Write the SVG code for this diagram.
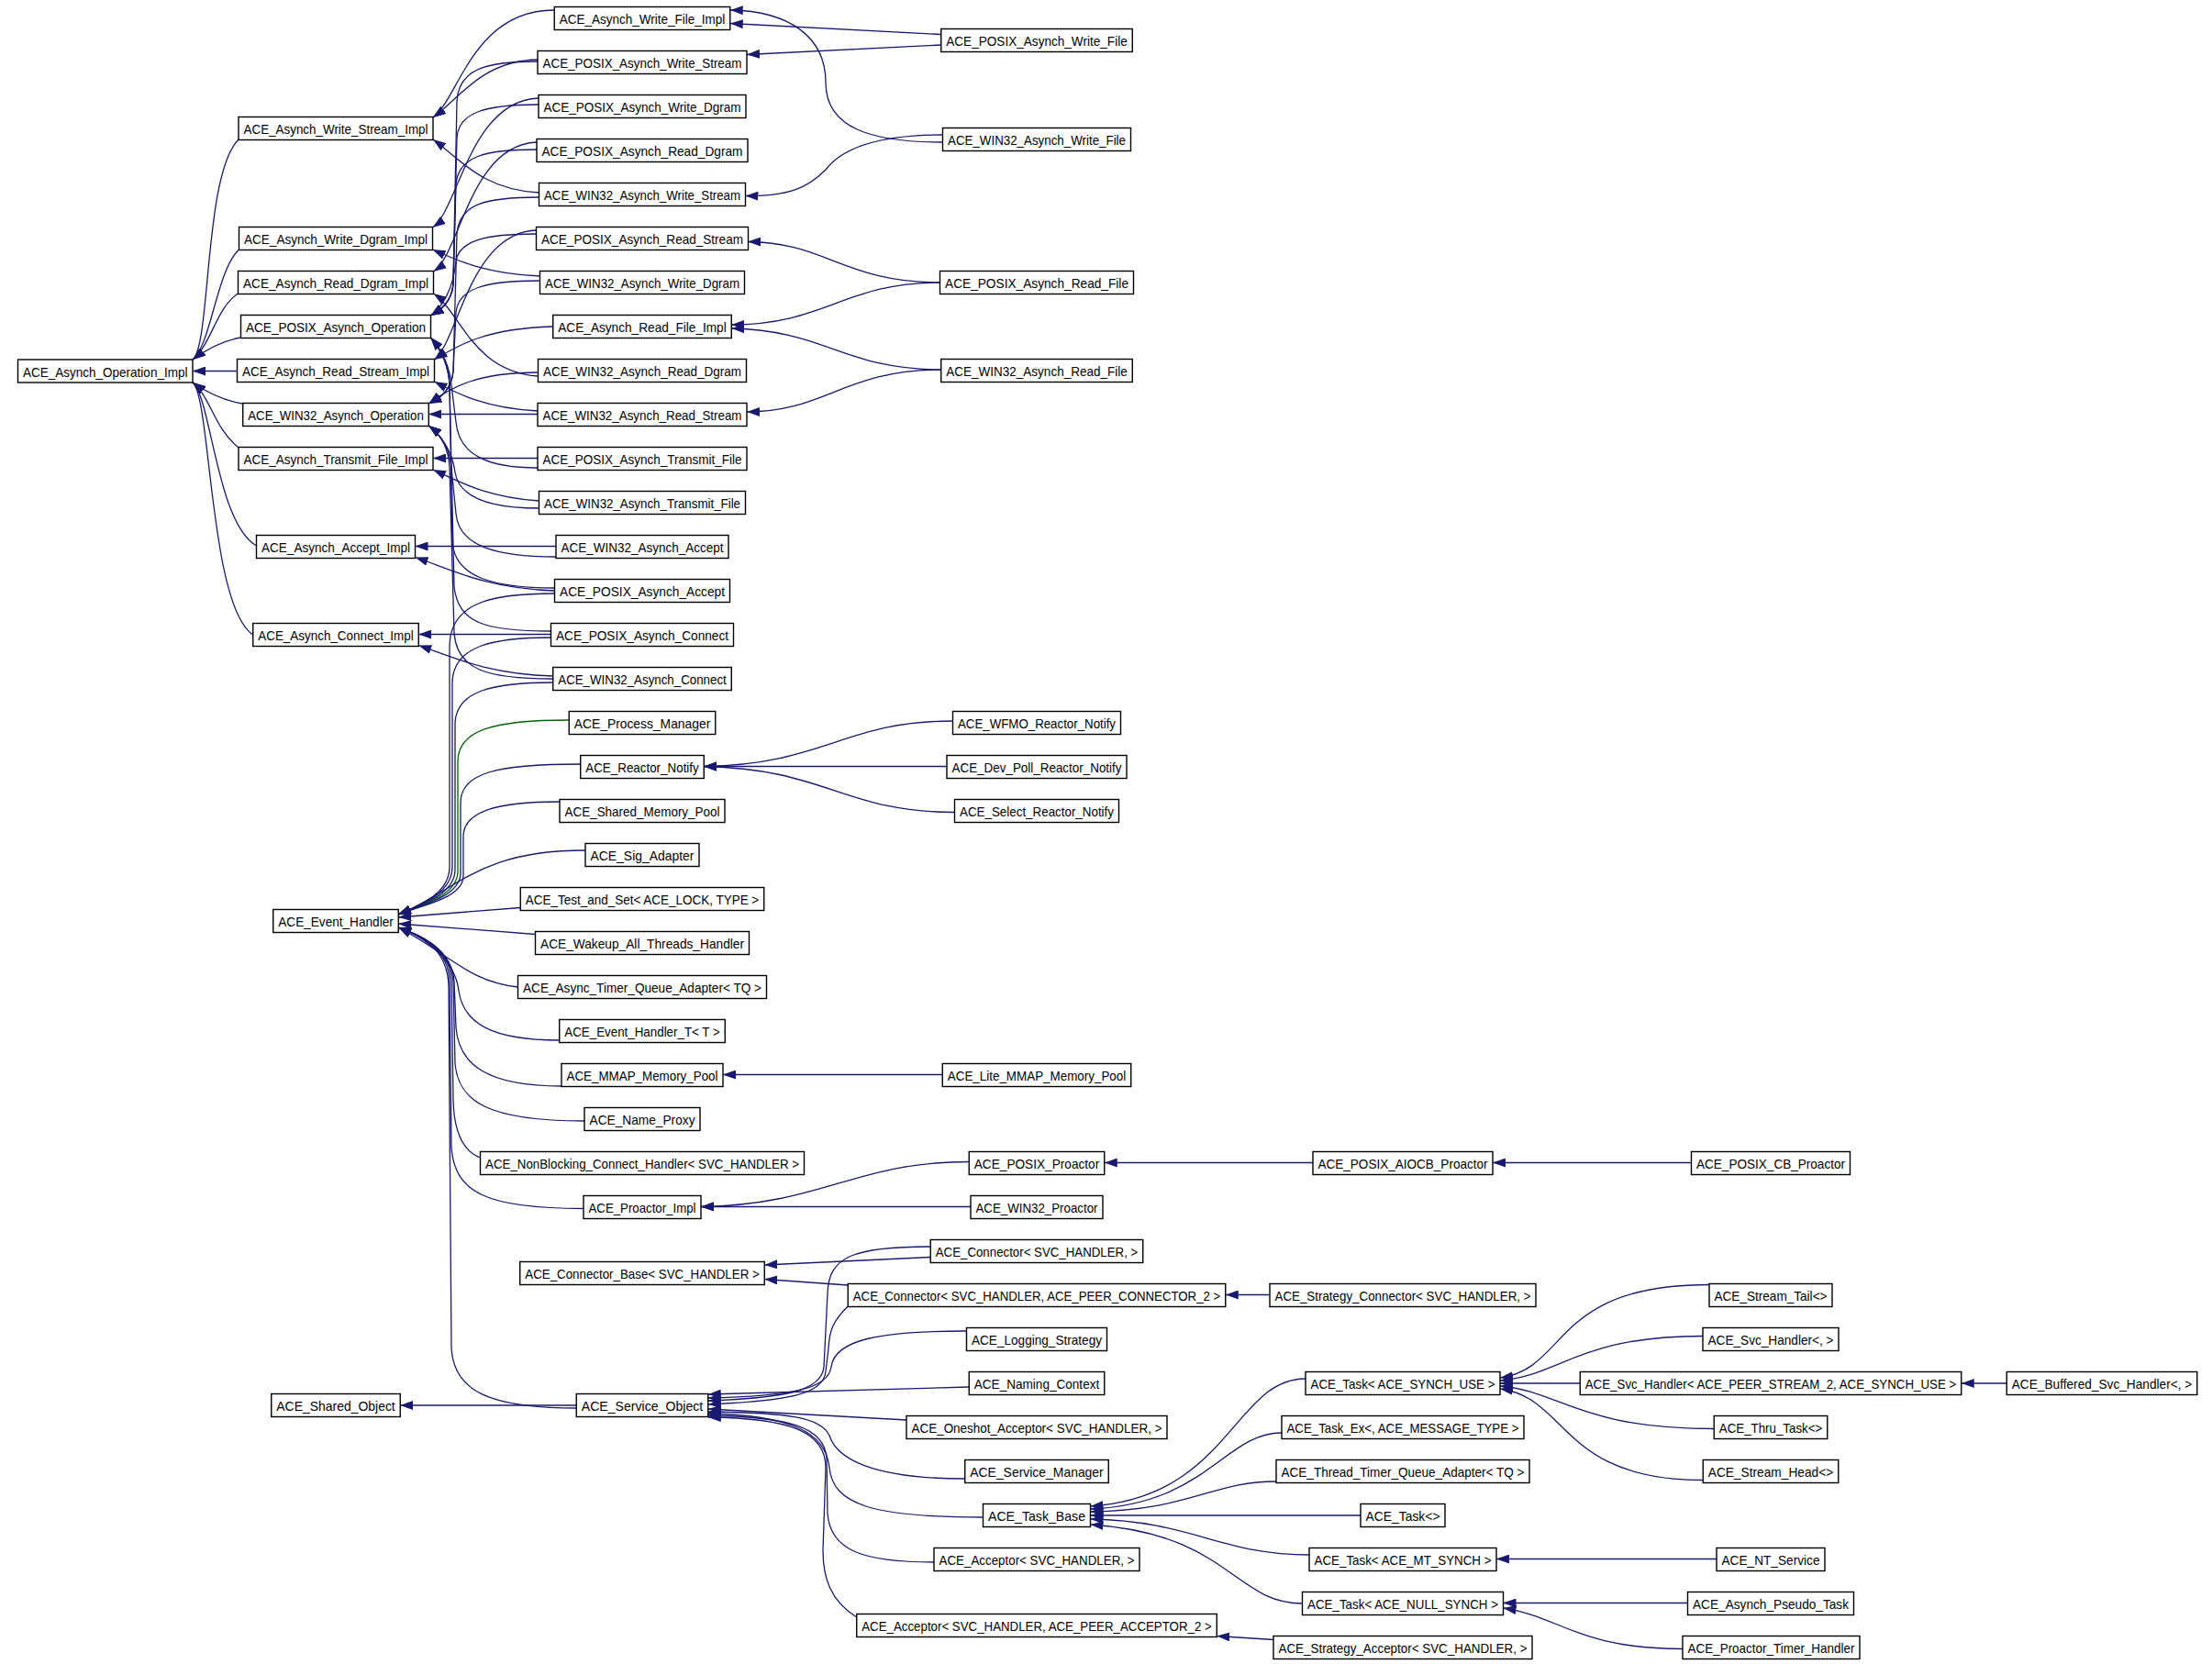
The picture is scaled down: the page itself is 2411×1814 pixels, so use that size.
<svg xmlns="http://www.w3.org/2000/svg" width="2411" height="1814" viewBox="0 0 2411 1814">
<style>
.e{fill:none;stroke:#191970;stroke-width:1.3;marker-end:url(#a)}
.g{fill:none;stroke:#006400;stroke-width:1.3;marker-end:url(#ag)}
.n rect{fill:#fff;stroke:#000;stroke-width:1.4}
.n text{font-family:"Liberation Sans",Arial,Helvetica,sans-serif;font-size:15px;text-anchor:middle;fill:#000}
</style>
<defs>
<marker id="a" markerUnits="userSpaceOnUse" viewBox="0 0 14 10" markerWidth="14" markerHeight="10" refX="14" refY="5" orient="auto"><path d="M0,0 L14,5 L0,10 Z" fill="#191970"/></marker>
<marker id="ag" markerUnits="userSpaceOnUse" viewBox="0 0 14 10" markerWidth="14" markerHeight="10" refX="14" refY="5" orient="auto"><path d="M0,0 L14,5 L0,10 Z" fill="#006400"/></marker>
</defs>
<rect width="2411" height="1814" fill="#fff"/>
<g id="edges">
<path class="e" d="M260,152 C222,190 230,376 210,392"/>
<path class="e" d="M260.5,272 C236,295 230,376 210,392"/>
<path class="e" d="M259.5,320 C236,335 230,376 210,392"/>
<path class="e" d="M262.5,368 C244,371 226,380 210,392"/>
<path class="e" d="M258.5,404.5 L210,404.5"/>
<path class="e" d="M264.75,440 C245,437 226,428 210,417"/>
<path class="e" d="M260,488 C232,465 230,433 210,417"/>
<path class="e" d="M279.5,595 C236,570 230,433 210,417"/>
<path class="e" d="M275.75,692 C228,660 230,433 210,417"/>
<path class="e" d="M604.25,11 C515,11 500,108 472,128"/>
<path class="e" d="M586,65 C525,66 500,108 472,128"/>
<path class="e" d="M587.5,210 C525,207 500,172 472,152"/>
<path class="e" d="M587,107 C512,110 500,228 471.5,248"/>
<path class="e" d="M588.5,301 C530,298 500,285 471.5,272"/>
<path class="e" d="M585,155 C512,158 502,276 472.5,296"/>
<path class="e" d="M586.5,410 C515,405 502,340 472.5,320"/>
<path class="e" d="M586,67 C530,67 500,75 498,110 L494,310 C492,330 480,338 469.5,344"/>
<path class="e" d="M587,114 C530,114 500,122 498,150 L494,310 C492,330 480,338 469.5,344"/>
<path class="e" d="M585,163 C530,163 500,170 497,200 L494,310 C492,330 480,338 469.5,344"/>
<path class="e" d="M584.5,255 C530,255 500,262 497,285 C494,315 482,335 469.5,344"/>
<path class="e" d="M586,510 C530,510 500,495 497,460 L492,420 C490,395 478,378 469.5,368"/>
<path class="e" d="M604.5,641 C540,641 495,630 493,590 L490,420 C489,395 478,378 469.5,368"/>
<path class="e" d="M600.5,688 C530,688 500,680 495,640 L490,420 C489,395 478,378 469.5,368"/>
<path class="e" d="M602.75,356 C530,358 500,376 473.5,392"/>
<path class="e" d="M584.5,251 C512,254 500,370 473.5,392"/>
<path class="e" d="M586,448 C530,445 500,430 473.5,416"/>
<path class="e" d="M587.5,215 C530,215 500,222 498,255 L494,405 C492,425 480,434 467.25,440"/>
<path class="e" d="M588.5,306 C530,306 500,314 497,340 L494,405 C492,425 480,434 467.25,440"/>
<path class="e" d="M586.5,406 C520,406 492,422 467.25,440"/>
<path class="e" d="M586,451.5 L467.25,451.5"/>
<path class="e" d="M587.5,554 C530,554 500,540 496,515 C493,490 478,472 467.25,464"/>
<path class="e" d="M606,607 C540,607 500,595 497,560 L492,510 C490,485 478,472 467.25,464"/>
<path class="e" d="M602.75,740 C530,740 498,730 495,690 L490,510 C489,485 478,472 467.25,464"/>
<path class="e" d="M586,499.5 L472,499.5"/>
<path class="e" d="M587.5,546 C530,542 500,525 472,512"/>
<path class="e" d="M606,595.5 L452.5,595.5"/>
<path class="e" d="M604.5,644 C530,642 490,620 452.5,607.5"/>
<path class="e" d="M600.5,691.5 L456.25,691.5"/>
<path class="e" d="M602.75,737 C530,735 490,715 456.25,703.5"/>
<path class="e" d="M604.5,647 C540,647 490,655 490,705 L490,945 C490,975 455,988 434.25,997"/>
<path class="e" d="M600.5,695 C540,695 493,703 493,745 L493,945 C493,975 455,988 434.25,997"/>
<path class="e" d="M602.75,744 C540,744 496,752 496,790 L496,948 C496,976 455,988 434.25,997"/>
<path class="g" d="M620.25,785 C540,785 499,795 499,830 L499,950 C499,977 455,988 434.25,997"/>
<path class="e" d="M632.75,833 C540,833 502,843 502,875 L502,952 C502,978 455,988 434.25,997"/>
<path class="e" d="M610,874 C540,874 505,885 505,912 L505,955 C505,980 455,988 434.25,997"/>
<path class="e" d="M638,927 C520,927 500,970 434.25,997"/>
<path class="e" d="M567.25,989.5 L434.25,1000"/>
<path class="e" d="M583.5,1018.5 L434.25,1007"/>
<path class="e" d="M564.5,1076 C510,1070 490,1040 434.25,1011"/>
<path class="e" d="M609.75,1134 C535,1134 505,1115 500,1080 C496,1045 460,1020 434.25,1011"/>
<path class="e" d="M612,1184 C530,1184 500,1160 497,1120 L495,1070 C493,1035 460,1020 434.25,1011"/>
<path class="e" d="M637,1222 C530,1222 500,1200 496,1160 L494,1070 C492,1035 460,1020 434.25,1011"/>
<path class="e" d="M523.5,1262 C505,1255 495,1235 494,1200 L492,1070 C491,1035 460,1020 434.25,1011"/>
<path class="e" d="M636,1317.5 C530,1317.5 495,1300 492,1250 L490,1070 C489,1035 460,1020 434.25,1011"/>
<path class="e" d="M628.25,1535 C530,1535 495,1515 492,1470 L489,1075 C488,1035 460,1020 434.25,1011"/>
<path class="e" d="M628.25,1532 L436.25,1532"/>
<path class="e" d="M1025.75,37.5 L795.75,25.5"/>
<path class="e" d="M1025.75,49 L814,59.5"/>
<path class="e" d="M1027.5,155 C950,155 900,140 900,90 C900,40 860,12 795.75,11"/>
<path class="e" d="M1027.5,147 C950,147 915,165 900,185 C880,205 860,214 812.5,213.5"/>
<path class="e" d="M1024.5,308 C920,308 900,264 815,263.5"/>
<path class="e" d="M1024.5,308 C920,308 900,354 797.25,354"/>
<path class="e" d="M1025.75,403 C920,403 900,360 797.25,358"/>
<path class="e" d="M1025.75,403 C920,403 900,449 814,449"/>
<path class="e" d="M1038.5,786 C920,786 900,833 767.25,835.5"/>
<path class="e" d="M1032,835.5 L767.25,835.5"/>
<path class="e" d="M1040.5,885.5 C920,885.5 900,838 767.25,835.5"/>
<path class="e" d="M1027.25,1171.5 L788,1171.5"/>
<path class="e" d="M1056.25,1266.5 C930,1266.5 900,1313 764,1315.5"/>
<path class="e" d="M1058,1315.5 L764,1315.5"/>
<path class="e" d="M1431,1267.5 L1203.75,1267.5"/>
<path class="e" d="M1843.5,1267.5 L1627,1267.5"/>
<path class="e" d="M1014.25,1370.5 L833.25,1379"/>
<path class="e" d="M924.25,1401 L833.25,1394.5"/>
<path class="e" d="M1384,1411.5 L1335.75,1411.5"/>
<path class="e" d="M1014.25,1359 C930,1359 903,1370 902,1410 L898,1490 C896,1515 860,1524 771.75,1527"/>
<path class="e" d="M924.25,1424 C908,1440 904,1450 903,1470 L900,1495 C898,1520 860,1527 771.75,1531"/>
<path class="e" d="M1053.5,1451 C960,1451 910,1460 906,1490 C903,1515 860,1522 771.75,1524"/>
<path class="e" d="M1056.25,1512 L771.75,1520"/>
<path class="e" d="M988,1548 L771.75,1536"/>
<path class="e" d="M1051.75,1612 C950,1612 912,1590 904,1565 C895,1545 860,1540 771.75,1539"/>
<path class="e" d="M1071.5,1654 C950,1654 908,1640 904,1600 C900,1560 860,1543 771.75,1541"/>
<path class="e" d="M1018,1703 C940,1703 905,1690 902,1650 L901,1590 C899,1555 860,1545 771.75,1543"/>
<path class="e" d="M933.75,1763 C905,1745 897,1720 897,1690 L900,1600 C900,1560 860,1546 771.75,1545"/>
<path class="e" d="M1423,1503 C1345,1503 1340,1632 1188.5,1642"/>
<path class="e" d="M1397,1562 C1335,1562 1315,1640 1188.5,1645"/>
<path class="e" d="M1391,1615 C1320,1615 1300,1646 1188.5,1648"/>
<path class="e" d="M1483,1652 L1188.5,1652"/>
<path class="e" d="M1427,1695 C1330,1695 1300,1658 1188.5,1656"/>
<path class="e" d="M1419.5,1748 C1345,1748 1340,1672 1188.5,1662"/>
<path class="e" d="M1863,1400.5 C1690,1400.5 1710,1492 1635,1502"/>
<path class="e" d="M1856,1456.5 C1720,1456.5 1700,1500 1635,1505"/>
<path class="e" d="M1722.25,1508 L1635,1508"/>
<path class="e" d="M1868.25,1557.5 C1720,1557.5 1700,1516 1635,1511"/>
<path class="e" d="M1856.25,1613.5 C1700,1613.5 1710,1524 1635,1514"/>
<path class="e" d="M2187.25,1508 L2137.75,1508"/>
<path class="e" d="M1871,1699.5 L1631,1699.5"/>
<path class="e" d="M1839.5,1747.5 L1638.5,1747.5"/>
<path class="e" d="M1834,1797.5 C1720,1797.5 1700,1762 1638.5,1753"/>
<path class="e" d="M1388,1787.5 L1326.25,1783.5"/>
</g>
<g id="n_OI" class="n"><rect x="19.5" y="392" width="190.5" height="25"/><text x="114.7" y="410.5" textLength="179.5" lengthAdjust="spacingAndGlyphs">ACE_Asynch_Operation_Impl</text></g>
<g id="n_WSI" class="n"><rect x="260" y="127.5" width="212" height="25"/><text x="366" y="146" textLength="201" lengthAdjust="spacingAndGlyphs">ACE_Asynch_Write_Stream_Impl</text></g>
<g id="n_WDI" class="n"><rect x="260.5" y="247.5" width="211" height="25"/><text x="366" y="266" textLength="200" lengthAdjust="spacingAndGlyphs">ACE_Asynch_Write_Dgram_Impl</text></g>
<g id="n_RDI" class="n"><rect x="259.5" y="295.5" width="213" height="25"/><text x="366" y="314" textLength="202" lengthAdjust="spacingAndGlyphs">ACE_Asynch_Read_Dgram_Impl</text></g>
<g id="n_PO" class="n"><rect x="262.5" y="343.5" width="207" height="25"/><text x="366" y="362" textLength="196" lengthAdjust="spacingAndGlyphs">ACE_POSIX_Asynch_Operation</text></g>
<g id="n_RSI" class="n"><rect x="258.5" y="391.5" width="215" height="25"/><text x="366" y="410" textLength="204" lengthAdjust="spacingAndGlyphs">ACE_Asynch_Read_Stream_Impl</text></g>
<g id="n_WO" class="n"><rect x="264.75" y="439.5" width="202.5" height="25"/><text x="366" y="458" textLength="191.5" lengthAdjust="spacingAndGlyphs">ACE_WIN32_Asynch_Operation</text></g>
<g id="n_TFI" class="n"><rect x="260" y="487.5" width="212" height="25"/><text x="366" y="506" textLength="201" lengthAdjust="spacingAndGlyphs">ACE_Asynch_Transmit_File_Impl</text></g>
<g id="n_AI" class="n"><rect x="279.5" y="583.5" width="173" height="25"/><text x="366" y="602" textLength="162" lengthAdjust="spacingAndGlyphs">ACE_Asynch_Accept_Impl</text></g>
<g id="n_CI" class="n"><rect x="275.75" y="679.5" width="180.5" height="25"/><text x="366" y="698" textLength="169.5" lengthAdjust="spacingAndGlyphs">ACE_Asynch_Connect_Impl</text></g>
<g id="n_EH" class="n"><rect x="297.75" y="991.5" width="136.5" height="25"/><text x="366" y="1010" textLength="125.5" lengthAdjust="spacingAndGlyphs">ACE_Event_Handler</text></g>
<g id="n_ShO" class="n"><rect x="295.75" y="1519.5" width="140.5" height="25"/><text x="366" y="1538" textLength="129.5" lengthAdjust="spacingAndGlyphs">ACE_Shared_Object</text></g>
<g id="n_WFI" class="n"><rect x="604.25" y="7.5" width="191.5" height="25"/><text x="700" y="26" textLength="180.5" lengthAdjust="spacingAndGlyphs">ACE_Asynch_Write_File_Impl</text></g>
<g id="n_PWS" class="n"><rect x="586" y="55.5" width="228" height="25"/><text x="700" y="74" textLength="217" lengthAdjust="spacingAndGlyphs">ACE_POSIX_Asynch_Write_Stream</text></g>
<g id="n_PWD" class="n"><rect x="587" y="103.5" width="226" height="25"/><text x="700" y="122" textLength="215" lengthAdjust="spacingAndGlyphs">ACE_POSIX_Asynch_Write_Dgram</text></g>
<g id="n_PRD" class="n"><rect x="585" y="151.5" width="230" height="25"/><text x="700" y="170" textLength="219" lengthAdjust="spacingAndGlyphs">ACE_POSIX_Asynch_Read_Dgram</text></g>
<g id="n_WWS" class="n"><rect x="587.5" y="199.5" width="225" height="25"/><text x="700" y="218" textLength="214" lengthAdjust="spacingAndGlyphs">ACE_WIN32_Asynch_Write_Stream</text></g>
<g id="n_PRS" class="n"><rect x="584.5" y="247.5" width="231" height="25"/><text x="700" y="266" textLength="220" lengthAdjust="spacingAndGlyphs">ACE_POSIX_Asynch_Read_Stream</text></g>
<g id="n_WWD" class="n"><rect x="588.5" y="295.5" width="223" height="25"/><text x="700" y="314" textLength="212" lengthAdjust="spacingAndGlyphs">ACE_WIN32_Asynch_Write_Dgram</text></g>
<g id="n_RFI" class="n"><rect x="602.75" y="343.5" width="194.5" height="25"/><text x="700" y="362" textLength="183.5" lengthAdjust="spacingAndGlyphs">ACE_Asynch_Read_File_Impl</text></g>
<g id="n_WRD" class="n"><rect x="586.5" y="391.5" width="227" height="25"/><text x="700" y="410" textLength="216" lengthAdjust="spacingAndGlyphs">ACE_WIN32_Asynch_Read_Dgram</text></g>
<g id="n_WRS" class="n"><rect x="586" y="439.5" width="228" height="25"/><text x="700" y="458" textLength="217" lengthAdjust="spacingAndGlyphs">ACE_WIN32_Asynch_Read_Stream</text></g>
<g id="n_PTF" class="n"><rect x="586" y="487.5" width="228" height="25"/><text x="700" y="506" textLength="217" lengthAdjust="spacingAndGlyphs">ACE_POSIX_Asynch_Transmit_File</text></g>
<g id="n_WTF" class="n"><rect x="587.5" y="535.5" width="225" height="25"/><text x="700" y="554" textLength="214" lengthAdjust="spacingAndGlyphs">ACE_WIN32_Asynch_Transmit_File</text></g>
<g id="n_WA" class="n"><rect x="606" y="583.5" width="188" height="25"/><text x="700" y="602" textLength="177" lengthAdjust="spacingAndGlyphs">ACE_WIN32_Asynch_Accept</text></g>
<g id="n_PA" class="n"><rect x="604.5" y="631.5" width="191" height="25"/><text x="700" y="650" textLength="180" lengthAdjust="spacingAndGlyphs">ACE_POSIX_Asynch_Accept</text></g>
<g id="n_PC" class="n"><rect x="600.5" y="679.5" width="199" height="25"/><text x="700" y="698" textLength="188" lengthAdjust="spacingAndGlyphs">ACE_POSIX_Asynch_Connect</text></g>
<g id="n_WC" class="n"><rect x="602.75" y="727.5" width="194.5" height="25"/><text x="700" y="746" textLength="183.5" lengthAdjust="spacingAndGlyphs">ACE_WIN32_Asynch_Connect</text></g>
<g id="n_PM" class="n"><rect x="620.25" y="775.5" width="159.5" height="25"/><text x="700" y="794" textLength="148.5" lengthAdjust="spacingAndGlyphs">ACE_Process_Manager</text></g>
<g id="n_RN" class="n"><rect x="632.75" y="823.5" width="134.5" height="25"/><text x="700" y="842" textLength="123.5" lengthAdjust="spacingAndGlyphs">ACE_Reactor_Notify</text></g>
<g id="n_SMP" class="n"><rect x="610" y="871.5" width="180" height="25"/><text x="700" y="890" textLength="169" lengthAdjust="spacingAndGlyphs">ACE_Shared_Memory_Pool</text></g>
<g id="n_SA" class="n"><rect x="638" y="919.5" width="124" height="25"/><text x="700" y="938" textLength="113" lengthAdjust="spacingAndGlyphs">ACE_Sig_Adapter</text></g>
<g id="n_TaS" class="n"><rect x="567.25" y="967.5" width="265.5" height="25"/><text x="700" y="986" textLength="254.5" lengthAdjust="spacingAndGlyphs">ACE_Test_and_Set&lt; ACE_LOCK, TYPE &gt;</text></g>
<g id="n_WATH" class="n"><rect x="583.5" y="1015.5" width="233" height="25"/><text x="700" y="1034" textLength="222" lengthAdjust="spacingAndGlyphs">ACE_Wakeup_All_Threads_Handler</text></g>
<g id="n_ATQA" class="n"><rect x="564.5" y="1063.5" width="271" height="25"/><text x="700" y="1082" textLength="260" lengthAdjust="spacingAndGlyphs">ACE_Async_Timer_Queue_Adapter&lt; TQ &gt;</text></g>
<g id="n_EHT" class="n"><rect x="609.75" y="1111.5" width="180.5" height="25"/><text x="700" y="1130" textLength="169.5" lengthAdjust="spacingAndGlyphs">ACE_Event_Handler_T&lt; T &gt;</text></g>
<g id="n_MMAP" class="n"><rect x="612" y="1159.5" width="176" height="25"/><text x="700" y="1178" textLength="165" lengthAdjust="spacingAndGlyphs">ACE_MMAP_Memory_Pool</text></g>
<g id="n_NP" class="n"><rect x="637" y="1207.5" width="126" height="25"/><text x="700" y="1226" textLength="115" lengthAdjust="spacingAndGlyphs">ACE_Name_Proxy</text></g>
<g id="n_NB" class="n"><rect x="523.5" y="1255.5" width="353" height="25"/><text x="700" y="1274" textLength="342" lengthAdjust="spacingAndGlyphs">ACE_NonBlocking_Connect_Handler&lt; SVC_HANDLER &gt;</text></g>
<g id="n_PI" class="n"><rect x="636" y="1303.5" width="128" height="25"/><text x="700" y="1322" textLength="117" lengthAdjust="spacingAndGlyphs">ACE_Proactor_Impl</text></g>
<g id="n_CB" class="n"><rect x="566.75" y="1375.5" width="266.5" height="25"/><text x="700" y="1394" textLength="255.5" lengthAdjust="spacingAndGlyphs">ACE_Connector_Base&lt; SVC_HANDLER &gt;</text></g>
<g id="n_SO" class="n"><rect x="628.25" y="1519.5" width="143.5" height="25"/><text x="700" y="1538" textLength="132.5" lengthAdjust="spacingAndGlyphs">ACE_Service_Object</text></g>
<g id="n_PWF" class="n"><rect x="1025.75" y="31.5" width="208.5" height="25"/><text x="1130" y="50" textLength="197.5" lengthAdjust="spacingAndGlyphs">ACE_POSIX_Asynch_Write_File</text></g>
<g id="n_WWF" class="n"><rect x="1027.5" y="139.5" width="205" height="25"/><text x="1130" y="158" textLength="194" lengthAdjust="spacingAndGlyphs">ACE_WIN32_Asynch_Write_File</text></g>
<g id="n_PRF" class="n"><rect x="1024.5" y="295.5" width="211" height="25"/><text x="1130" y="314" textLength="200" lengthAdjust="spacingAndGlyphs">ACE_POSIX_Asynch_Read_File</text></g>
<g id="n_WRF" class="n"><rect x="1025.75" y="391.5" width="208.5" height="25"/><text x="1130" y="410" textLength="197.5" lengthAdjust="spacingAndGlyphs">ACE_WIN32_Asynch_Read_File</text></g>
<g id="n_WFMO" class="n"><rect x="1038.5" y="775.5" width="183" height="25"/><text x="1130" y="794" textLength="172" lengthAdjust="spacingAndGlyphs">ACE_WFMO_Reactor_Notify</text></g>
<g id="n_DPRN" class="n"><rect x="1032" y="823.5" width="196" height="25"/><text x="1130" y="842" textLength="185" lengthAdjust="spacingAndGlyphs">ACE_Dev_Poll_Reactor_Notify</text></g>
<g id="n_SRN" class="n"><rect x="1040.5" y="871.5" width="179" height="25"/><text x="1130" y="890" textLength="168" lengthAdjust="spacingAndGlyphs">ACE_Select_Reactor_Notify</text></g>
<g id="n_LMMAP" class="n"><rect x="1027.25" y="1159.5" width="205.5" height="25"/><text x="1130" y="1178" textLength="194.5" lengthAdjust="spacingAndGlyphs">ACE_Lite_MMAP_Memory_Pool</text></g>
<g id="n_PPro" class="n"><rect x="1056.25" y="1255.5" width="147.5" height="25"/><text x="1130" y="1274" textLength="136.5" lengthAdjust="spacingAndGlyphs">ACE_POSIX_Proactor</text></g>
<g id="n_WPro" class="n"><rect x="1058" y="1303.5" width="144" height="25"/><text x="1130" y="1322" textLength="133" lengthAdjust="spacingAndGlyphs">ACE_WIN32_Proactor</text></g>
<g id="n_Conn1" class="n"><rect x="1014.25" y="1351.5" width="231.5" height="25"/><text x="1130" y="1370" textLength="220.5" lengthAdjust="spacingAndGlyphs">ACE_Connector&lt; SVC_HANDLER, &gt;</text></g>
<g id="n_Conn2" class="n"><rect x="924.25" y="1399.5" width="411.5" height="25"/><text x="1130" y="1418" textLength="400.5" lengthAdjust="spacingAndGlyphs">ACE_Connector&lt; SVC_HANDLER, ACE_PEER_CONNECTOR_2 &gt;</text></g>
<g id="n_LS" class="n"><rect x="1053.5" y="1447.5" width="153" height="25"/><text x="1130" y="1466" textLength="142" lengthAdjust="spacingAndGlyphs">ACE_Logging_Strategy</text></g>
<g id="n_NC" class="n"><rect x="1056.25" y="1495.5" width="147.5" height="25"/><text x="1130" y="1514" textLength="136.5" lengthAdjust="spacingAndGlyphs">ACE_Naming_Context</text></g>
<g id="n_OA" class="n"><rect x="988" y="1543.5" width="284" height="25"/><text x="1130" y="1562" textLength="273" lengthAdjust="spacingAndGlyphs">ACE_Oneshot_Acceptor&lt; SVC_HANDLER, &gt;</text></g>
<g id="n_SM" class="n"><rect x="1051.75" y="1591.5" width="156.5" height="25"/><text x="1130" y="1610" textLength="145.5" lengthAdjust="spacingAndGlyphs">ACE_Service_Manager</text></g>
<g id="n_TB" class="n"><rect x="1071.5" y="1639.5" width="117" height="25"/><text x="1130" y="1658" textLength="106" lengthAdjust="spacingAndGlyphs">ACE_Task_Base</text></g>
<g id="n_Acc1" class="n"><rect x="1018" y="1687.5" width="224" height="25"/><text x="1130" y="1706" textLength="213" lengthAdjust="spacingAndGlyphs">ACE_Acceptor&lt; SVC_HANDLER, &gt;</text></g>
<g id="n_Acc2" class="n"><rect x="933.75" y="1759.5" width="392.5" height="25"/><text x="1130" y="1778" textLength="381.5" lengthAdjust="spacingAndGlyphs">ACE_Acceptor&lt; SVC_HANDLER, ACE_PEER_ACCEPTOR_2 &gt;</text></g>
<g id="n_AIOCB" class="n"><rect x="1431" y="1255.5" width="196" height="25"/><text x="1529" y="1274" textLength="185" lengthAdjust="spacingAndGlyphs">ACE_POSIX_AIOCB_Proactor</text></g>
<g id="n_SC" class="n"><rect x="1384" y="1399.5" width="290" height="25"/><text x="1529" y="1418" textLength="279" lengthAdjust="spacingAndGlyphs">ACE_Strategy_Connector&lt; SVC_HANDLER, &gt;</text></g>
<g id="n_TS" class="n"><rect x="1423" y="1495.5" width="212" height="25"/><text x="1529" y="1514" textLength="201" lengthAdjust="spacingAndGlyphs">ACE_Task&lt; ACE_SYNCH_USE &gt;</text></g>
<g id="n_TEx" class="n"><rect x="1397" y="1543.5" width="264" height="25"/><text x="1529" y="1562" textLength="253" lengthAdjust="spacingAndGlyphs">ACE_Task_Ex&lt;, ACE_MESSAGE_TYPE &gt;</text></g>
<g id="n_TTQA" class="n"><rect x="1391" y="1591.5" width="276" height="25"/><text x="1529" y="1610" textLength="265" lengthAdjust="spacingAndGlyphs">ACE_Thread_Timer_Queue_Adapter&lt; TQ &gt;</text></g>
<g id="n_T" class="n"><rect x="1483" y="1639.5" width="92" height="25"/><text x="1529" y="1658" textLength="81" lengthAdjust="spacingAndGlyphs">ACE_Task&lt;&gt;</text></g>
<g id="n_TMT" class="n"><rect x="1427" y="1687.5" width="204" height="25"/><text x="1529" y="1706" textLength="193" lengthAdjust="spacingAndGlyphs">ACE_Task&lt; ACE_MT_SYNCH &gt;</text></g>
<g id="n_TNULL" class="n"><rect x="1419.5" y="1735.5" width="219" height="25"/><text x="1529" y="1754" textLength="208" lengthAdjust="spacingAndGlyphs">ACE_Task&lt; ACE_NULL_SYNCH &gt;</text></g>
<g id="n_SA2" class="n"><rect x="1388" y="1783.5" width="282" height="25"/><text x="1529" y="1802" textLength="271" lengthAdjust="spacingAndGlyphs">ACE_Strategy_Acceptor&lt; SVC_HANDLER, &gt;</text></g>
<g id="n_CBP" class="n"><rect x="1843.5" y="1255.5" width="173" height="25"/><text x="1930" y="1274" textLength="162" lengthAdjust="spacingAndGlyphs">ACE_POSIX_CB_Proactor</text></g>
<g id="n_STail" class="n"><rect x="1863" y="1399.5" width="134" height="25"/><text x="1930" y="1418" textLength="123" lengthAdjust="spacingAndGlyphs">ACE_Stream_Tail&lt;&gt;</text></g>
<g id="n_SH1" class="n"><rect x="1856" y="1447.5" width="148" height="25"/><text x="1930" y="1466" textLength="137" lengthAdjust="spacingAndGlyphs">ACE_Svc_Handler&lt;, &gt;</text></g>
<g id="n_SH2" class="n"><rect x="1722.25" y="1495.5" width="415.5" height="25"/><text x="1930" y="1514" textLength="404.5" lengthAdjust="spacingAndGlyphs">ACE_Svc_Handler&lt; ACE_PEER_STREAM_2, ACE_SYNCH_USE &gt;</text></g>
<g id="n_Thru" class="n"><rect x="1868.25" y="1543.5" width="123.5" height="25"/><text x="1930" y="1562" textLength="112.5" lengthAdjust="spacingAndGlyphs">ACE_Thru_Task&lt;&gt;</text></g>
<g id="n_SHead" class="n"><rect x="1856.25" y="1591.5" width="147.5" height="25"/><text x="1930" y="1610" textLength="136.5" lengthAdjust="spacingAndGlyphs">ACE_Stream_Head&lt;&gt;</text></g>
<g id="n_NT" class="n"><rect x="1871" y="1687.5" width="118" height="25"/><text x="1930" y="1706" textLength="107" lengthAdjust="spacingAndGlyphs">ACE_NT_Service</text></g>
<g id="n_APT" class="n"><rect x="1839.5" y="1735.5" width="181" height="25"/><text x="1930" y="1754" textLength="170" lengthAdjust="spacingAndGlyphs">ACE_Asynch_Pseudo_Task</text></g>
<g id="n_PTH" class="n"><rect x="1834" y="1783.5" width="193" height="25"/><text x="1930.5" y="1802" textLength="182" lengthAdjust="spacingAndGlyphs">ACE_Proactor_Timer_Handler</text></g>
<g id="n_BSH" class="n"><rect x="2187.25" y="1495.5" width="207.5" height="25"/><text x="2291" y="1514" textLength="196.5" lengthAdjust="spacingAndGlyphs">ACE_Buffered_Svc_Handler&lt;, &gt;</text></g>
</svg>
